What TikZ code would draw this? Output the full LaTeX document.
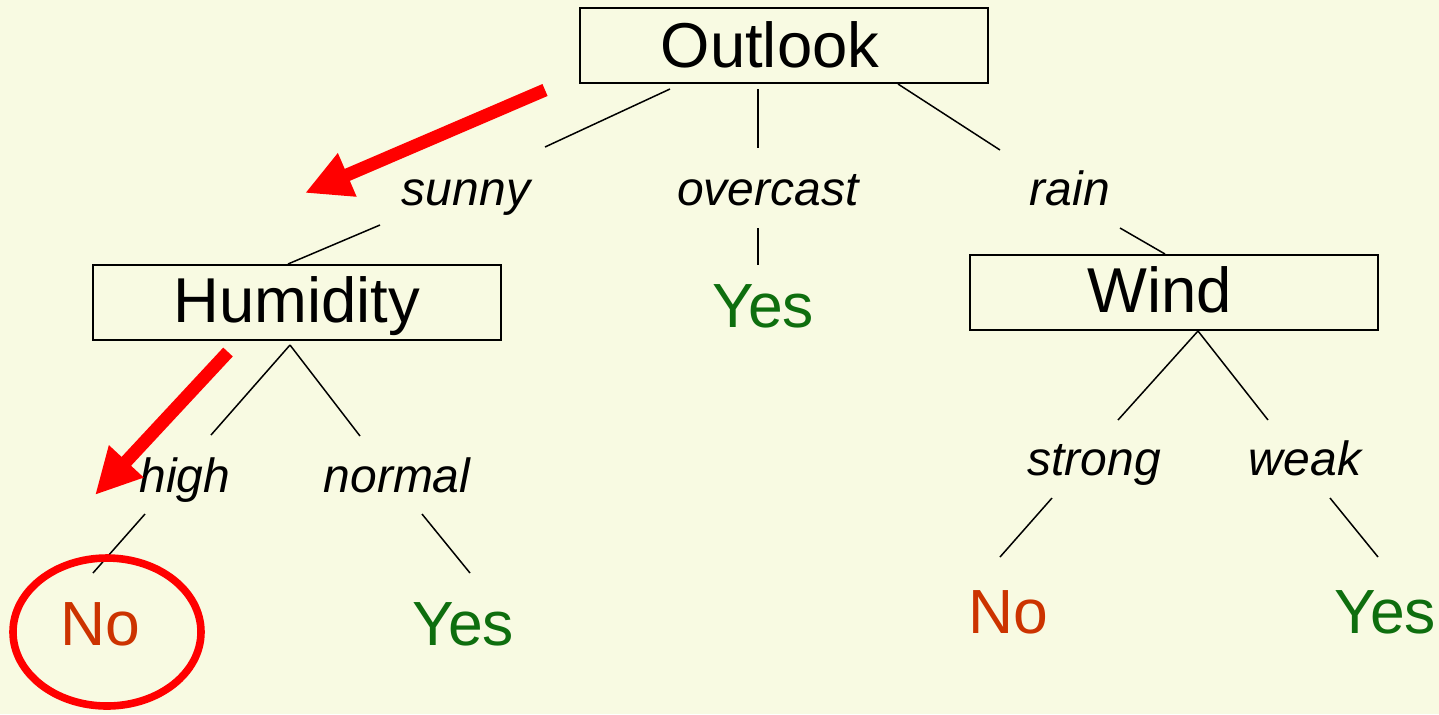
\documentclass[tikz,border=0pt]{standalone}
\usepackage{fontspec}
\setmainfont{Liberation Sans}
\usetikzlibrary{arrows.meta}
\definecolor{paper}{RGB}{248,250,226}
\definecolor{yescol}{RGB}{14,110,14}
\definecolor{nocol}{RGB}{204,51,0}
\definecolor{hilite}{RGB}{255,0,0}
\tikzset{
  attrbox/.style={draw=black, line width=1pt, minimum width=204pt, minimum height=37.5pt,
    inner sep=0pt, font=\fontsize{31.7}{38}\selectfont},
  boxtitle/.style={anchor=base, inner sep=0pt, font=\fontsize{31.7}{38}\selectfont},
  branchlabel/.style={anchor=base, inner sep=0pt, font=\fontsize{24}{29}\selectfont\itshape},
  yesleaf/.style={anchor=base, inner sep=0pt, text=yescol, font=\fontsize{31.2}{37}\selectfont},
  noleaf/.style={anchor=base, inner sep=0pt, text=nocol, font=\fontsize{31.2}{37}\selectfont},
  edge/.style={draw=black, line width=0.75pt},
  pointer/.style={draw=hilite, line width=6.5pt, -{Triangle[length=23pt,width=22pt]}},
  ring/.style={draw=hilite, line width=3.8pt}
}
\begin{document}
\begin{tikzpicture}[x=0.5pt,y=-0.5pt]
  % page and background
  \fill[paper] (0,0) rectangle (1439,714);
  \useasboundingbox (0,0) rectangle (1439,714);

  % attribute boxes
  \node[attrbox] (outlook) at (784,45.5) {};
  \node[boxtitle] (outlooktxt) at (770,67) {Outlook};
  \node[attrbox] (humidity) at (296.5,302.5) {};
  \node[boxtitle] (humiditytxt) at (297,322) {Humidity};
  \node[attrbox] (wind) at (1173.5,292.5) {};
  \node[boxtitle] (windtxt) at (1160,312) {Wind};

  % branch labels
  \node[branchlabel] (sunny) at (466,205) {sunny};
  \node[branchlabel] (overcast) at (768,205) {overcast};
  \node[branchlabel] (rain) at (1070,205) {rain};
  \node[branchlabel] (high) at (185,492) {high};
  \node[branchlabel] (normal) at (397,492) {normal};
  \node[branchlabel] (strong) at (1094,475) {strong};
  \node[branchlabel] (weak) at (1305,475) {weak};

  % leaves
  \node[yesleaf] (yesmid) at (763,327) {Yes};
  \node[noleaf] (nohigh) at (100,645) {No};
  \node[yesleaf] (yesnormal) at (463,645) {Yes};
  \node[noleaf] (nostrong) at (1008,633) {No};
  \node[yesleaf] (yesweak) at (1385,633) {Yes};

  % connector end points
  \coordinate (o1) at (670,89);   \coordinate (s1) at (545,147);
  \coordinate (o2) at (758,89);   \coordinate (c1) at (758,148);
  \coordinate (o3) at (898,84);   \coordinate (r1) at (1000,150);
  \coordinate (s2) at (380,225);  \coordinate (h0) at (288,264);
  \coordinate (c2) at (758,228);  \coordinate (y0) at (758,265);
  \coordinate (r2) at (1120,228); \coordinate (w0) at (1165,254);
  \coordinate (h1) at (290,345);  \coordinate (hi1) at (211,435);
  \coordinate (no1) at (360,436);
  \coordinate (hi2) at (145,514); \coordinate (n0) at (93,573);
  \coordinate (no2) at (422,514); \coordinate (yn0) at (470,573);
  \coordinate (w1) at (1198,331); \coordinate (st1) at (1118,420);
  \coordinate (wk1) at (1268,420);
  \coordinate (st2) at (1052,498); \coordinate (ns0) at (1000,557);
  \coordinate (wk2) at (1330,498); \coordinate (yw0) at (1378,557);

  % tree edges
  \draw[edge] (o1) -- (s1);
  \draw[edge] (o2) -- (c1);
  \draw[edge] (o3) -- (r1);
  \draw[edge] (s2) -- (h0);
  \draw[edge] (c2) -- (y0);
  \draw[edge] (r2) -- (w0);
  \draw[edge] (h1) -- (hi1);
  \draw[edge] (h1) -- (no1);
  \draw[edge] (hi2) -- (n0);
  \draw[edge] (no2) -- (yn0);
  \draw[edge] (w1) -- (st1);
  \draw[edge] (w1) -- (wk1);
  \draw[edge] (st2) -- (ns0);
  \draw[edge] (wk2) -- (yw0);

  % path highlighting
  \coordinate (p1s) at (545,90);  \coordinate (p1e) at (305,193);
  \coordinate (p2s) at (228,352); \coordinate (p2e) at (95,495);
  \coordinate (ringc) at (107,632);
  \draw[pointer] (p1s) -- (p1e);
  \draw[pointer] (p2s) -- (p2e);
  \draw[ring] (ringc) ellipse [x radius=94, y radius=74];
\end{tikzpicture}
\end{document}
